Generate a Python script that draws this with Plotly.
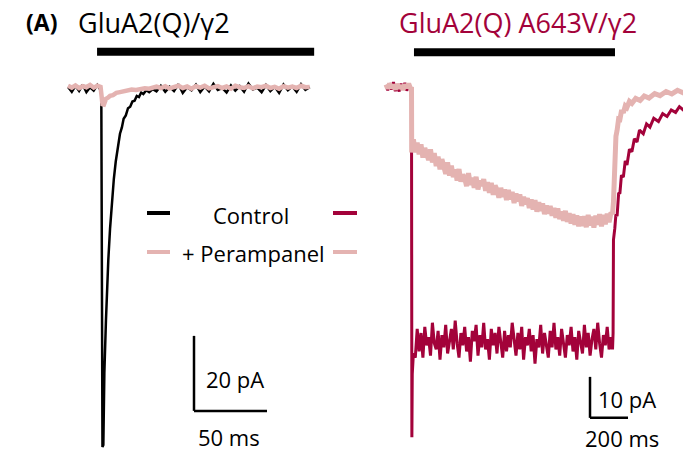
import plotly.graph_objects as go

# ---------------- colours ----------------
BLACK = "#000000"
CRIMSON = "#A3023A"
PINK = "#E4B3B1"

# ---------------- LEFT PANEL: GluA2(Q)/γ2  (time in ms, current in pA) ----------------
ctrl_left_t = [-22.6, -20, -17.5, -15, -12.5, -10, -7.5, -5, -2.5, -0.5,
               0.2, 1.0, 1.6, 2.3, 3.4, 4.2, 5.0, 6.2, 7.5, 8.8, 10.1, 11.5, 13.0, 14.3, 15.5,
               17.0, 18.5, 20.0, 21.5, 23.0, 24.5, 26.0, 27.5, 29.0, 31.0, 33.0, 35.5, 38.0,
               41, 44, 47, 50, 53, 56, 59, 62, 65, 68, 71, 74, 77, 80, 83, 86, 89, 92, 95, 98,
               101, 104, 107, 110, 113, 116, 119, 122, 125, 128, 131, 134, 137, 140, 143]
ctrl_left_i = [0.3, -1.0, 0.6, -0.8, 0.9, -1.1, 0.2, -0.7, 0.8, -0.4,
               0.0, -95.7, -95.2, -76.0, -61.9, -52.5, -45.9, -37.5, -30.0, -24.2, -19.6, -16.0, -12.2, -10.5, -8.2,
               -7.3, -5.4, -5.0, -3.6, -3.4, -2.1, -2.4, -1.2, -1.6, -0.6, -1.1, -0.3, -0.9,
               0.6, -1.0, 0.3, -0.8, 1.0, -1.3, 0.2, -0.6, 0.9, -1.1, 0.4, -0.9, 1.1, -0.5, 0.0, -1.2, 0.7, -0.7,
               0.5, -1.0, 1.2, -0.4, 0.1, -1.1, 0.8, -0.8, 0.3, -1.3, 0.9, -0.6, 0.4, -1.0, 1.0, -0.5, 0.2]

pera_left_t = [-22.6, -20, -17.5, -15, -12.5, -10, -7.5, -5, -2.5, -0.3,
               0.5, 1.0, 2.0, 3.4, 4.8, 6.2, 8.2, 10.5, 13.0, 15.5, 17.8, 21, 24, 26.7, 30, 33, 35.6,
               38, 41, 44, 47, 50, 53, 56, 59, 62, 65, 68, 71, 74, 77, 80, 83, 86, 89, 92, 95,
               98, 101, 104, 107, 110, 113, 116, 119, 122, 125, 128, 131, 134, 137, 140, 143]
pera_left_i = [0.6, 0.1, 0.7, 0.0, 0.5, 0.2, 0.8, 0.1, 0.6, 0.3,
               -2.5, -4.3, -4.4, -2.9, -2.6, -2.1, -1.9, -1.3, -1.1, -0.9, -0.7, -0.4, -0.5, -0.3, -0.1, -0.2, 0.0,
               0.4, 0.0, 0.5, -0.1, 0.3, 0.6, 0.0, 0.4, -0.2, 0.5, 0.1, 0.6, -0.1, 0.3, 0.5, 0.0, 0.4, -0.2, 0.6, 0.2,
               0.0, 0.5, -0.1, 0.4, 0.2, 0.6, 0.0, 0.3, -0.2, 0.5, 0.1, 0.4, 0.0, 0.6, 0.2, 0.3]

left_app = [-2.7, 146]          # glutamate application (ms)
left_scale = [50, 20]           # ms, pA

# ---------------- RIGHT PANEL: GluA2(Q) A643V/γ2 ----------------
# control: baseline, onset, plateau (sampled every 10 ms from 30 to 1050 ms), recovery
ctrl_right_pre_t = [-134, -125, -115, -105, -95, -85, -75, -65, -55, -45, -35, -25, -15, -5,
                    0, 2, 4, 10, 20]
ctrl_right_pre_i = [0.5, -0.8, 0.9, -0.6, 1.2, -1.0, 0.3, -1.1, 0.8, -0.5, 1.0, -0.9, 0.6, -0.4,
                    0.0, -85.4, -70.0, -65.0, -66.0]
ctrl_right_plateau_t = list(range(30, 1060, 10))
ctrl_right_plateau_i = [
    -59.0, -64.5, -60.0, -66.0, -58.5, -63.0, -61.0, -65.5, -57.5, -62.5,
    -64.0, -59.5, -66.5, -60.5, -63.5, -58.0, -65.0, -61.5, -59.0, -64.0,
    -57.0, -62.5, -66.0, -60.0, -63.0, -58.5, -64.5, -61.0, -67.0, -59.5,
    -62.0, -58.0, -65.5, -60.5, -63.5, -57.5, -64.0, -61.5, -66.5, -59.0,
    -63.0, -60.0, -65.0, -58.5, -62.5, -66.0, -59.5, -64.5, -60.5, -63.5,
    -57.5, -62.0, -65.5, -60.0, -64.0, -58.5, -66.5, -61.0, -63.0, -59.0,
    -64.5, -60.5, -67.5, -61.5, -63.5, -58.0, -65.0, -60.0, -62.5, -66.0,
    -59.5, -63.5, -57.5, -64.0, -61.0, -65.5, -59.0, -62.5, -66.0, -60.5,
    -63.0, -58.5, -64.5, -61.0, -66.5, -59.5, -62.0, -65.0, -58.0, -63.5,
    -60.0, -65.5, -61.5, -59.0, -64.0, -57.5, -62.5, -66.0, -60.5, -63.0,
    -58.5, -64.0, -61.0]
ctrl_right_post_t = [1058, 1061, 1063, 1070, 1076, 1082, 1090, 1097, 1105, 1115, 1125, 1134, 1147, 1160,
                     1173, 1187, 1200, 1220, 1237, 1255, 1275, 1300, 1322, 1345, 1367, 1390, 1410, 1430, 1445]
ctrl_right_post_i = [-64.0, -60.0, -37.3, -34.5, -31.0, -31.5, -26.0, -25.8, -21.5, -22.0, -18.0, -19.0, -15.2,
                     -15.8, -12.6, -13.4, -10.5, -11.4, -9.0, -9.8, -7.6, -8.4, -6.5, -7.2, -5.6, -6.2, -4.8,
                     -5.6, -4.6]

# + perampanel
pera_right_pre_t = [-134, -125, -115, -105, -95, -85, -75, -65, -55, -45, -35, -25, -15, -5, 0, 1, 4]
pera_right_pre_i = [0.6, -0.4, 0.8, -0.2, 0.5, -0.6, 0.7, -0.3, 0.4, -0.7, 0.6, -0.2, 0.8, -0.4,
                    0.0, -16.0, -13.5]
pera_right_plateau_t = list(range(10, 1060, 10))
pera_right_plateau_i = [
    -12.8, -15.9, -13.6, -16.4, -14.0, -17.2, -14.9, -16.0, -17.8, -15.2,
    -18.4, -16.1, -19.3, -17.0, -20.1, -17.6, -19.0, -21.2, -18.4, -21.6,
    -19.2, -22.0, -20.1, -22.8, -20.0, -23.1, -21.4, -22.3, -24.2, -21.0,
    -23.9, -22.1, -24.6, -21.9, -25.0, -22.8, -24.1, -22.5, -25.3, -23.2,
    -25.8, -23.4, -26.3, -24.0, -25.1, -27.0, -24.6, -26.8, -25.0, -27.6,
    -25.1, -27.4, -25.6, -28.3, -26.0, -27.9, -26.2, -29.0, -26.8, -28.6,
    -27.1, -29.5, -27.4, -29.9, -27.6, -30.4, -28.1, -30.2, -28.4, -31.0,
    -28.9, -30.9, -29.0, -31.4, -29.5, -31.9, -29.6, -32.2, -30.4, -32.6,
    -30.2, -32.9, -30.8, -33.3, -31.0, -33.6, -31.3, -34.0, -31.6, -33.9,
    -31.5, -34.2, -31.2, -33.8, -31.6, -34.3, -31.4, -33.6, -31.0, -34.0,
    -31.2, -33.5, -30.9, -33.0, -30.6]
pera_right_post_t = [1058, 1063, 1067, 1071, 1076, 1082, 1090, 1097, 1106, 1115, 1125, 1134, 1147, 1160,
                     1180, 1203, 1225, 1250, 1280, 1308, 1340, 1370, 1400, 1430, 1445]
pera_right_post_i = [-31.0, -28.0, -20.0, -15.4, -12.0, -10.6, -7.8, -7.9, -5.6, -6.3, -4.6, -5.0, -3.5, -4.0,
                     -2.8, -3.3, -2.2, -2.7, -1.6, -2.1, -1.1, -1.7, -0.8, -1.4, -0.9]

right_app = [13, 1071]
right_scale = [200, 10]

ctrl_right_t = ctrl_right_pre_t + ctrl_right_plateau_t + ctrl_right_post_t
ctrl_right_i = ctrl_right_pre_i + ctrl_right_plateau_i + ctrl_right_post_i
pera_right_t = pera_right_pre_t + pera_right_plateau_t + pera_right_post_t
pera_right_i = pera_right_pre_i + pera_right_plateau_i + pera_right_post_i

assert len(ctrl_left_t) == len(ctrl_left_i)
assert len(pera_left_t) == len(pera_left_i)
assert len(ctrl_right_t) == len(ctrl_right_i)
assert len(pera_right_t) == len(pera_right_i)

FONT = "Open Sans"
W, H = 683, 454
SPLIT = 360 / W

fig = go.Figure()

# left panel traces (control first, perampanel on top)
fig.add_trace(go.Scatter(x=ctrl_left_t, y=ctrl_left_i, mode="lines",
                         line=dict(color=BLACK, width=2.5), xaxis="x", yaxis="y", hoverinfo="skip"))
fig.add_trace(go.Scatter(x=pera_left_t, y=pera_left_i, mode="lines",
                         line=dict(color=PINK, width=4.5), xaxis="x", yaxis="y", hoverinfo="skip"))
# right panel traces
fig.add_trace(go.Scatter(x=ctrl_right_t, y=ctrl_right_i, mode="lines",
                         line=dict(color=CRIMSON, width=3), xaxis="x2", yaxis="y2", hoverinfo="skip"))
fig.add_trace(go.Scatter(x=pera_right_t, y=pera_right_i, mode="lines",
                         line=dict(color=PINK, width=5), xaxis="x2", yaxis="y2", hoverinfo="skip"))

shapes = []
# application bars
shapes.append(dict(type="line", xref="x", yref="y", x0=left_app[0], x1=left_app[1], y0=9.7, y1=9.7,
                   line=dict(color=BLACK, width=8)))
shapes.append(dict(type="line", xref="x2", yref="y2", x0=right_app[0], x1=right_app[1], y0=8.5, y1=8.5,
                   line=dict(color=BLACK, width=8)))
# scale bars left
lx0, ly0 = 63.7, -86.1
shapes.append(dict(type="line", xref="x", yref="y", x0=lx0, x1=lx0, y0=ly0, y1=ly0 + left_scale[1],
                   line=dict(color=BLACK, width=2.5)))
shapes.append(dict(type="line", xref="x", yref="y", x0=lx0, x1=lx0 + left_scale[0], y0=ly0, y1=ly0,
                   line=dict(color=BLACK, width=2.5)))
# scale bars right
rx0, ry0 = 939.5, -80.7
shapes.append(dict(type="line", xref="x2", yref="y2", x0=rx0, x1=rx0, y0=ry0, y1=ry0 + right_scale[1],
                   line=dict(color=BLACK, width=2.5)))
shapes.append(dict(type="line", xref="x2", yref="y2", x0=rx0, x1=rx0 + right_scale[0], y0=ry0, y1=ry0,
                   line=dict(color=BLACK, width=2.5)))
# legend sample dashes (paper coords)
def px(xp):
    return xp / W
def py(yp):
    return 1 - yp / H
for (x0, x1, yy, c) in [(147, 170, 213, BLACK), (333, 357, 213, CRIMSON),
                        (147, 170, 252, PINK), (333, 357, 252, PINK)]:
    shapes.append(dict(type="line", xref="paper", yref="paper", x0=px(x0), x1=px(x1), y0=py(yy), y1=py(yy),
                       line=dict(color=c, width=4)))

annotations = [
    dict(text="<b>(A)</b>", x=px(24), y=py(22), xanchor="left", yanchor="middle",
         font=dict(size=23, color=BLACK)),
    dict(text="GluA2(Q)/γ2", x=px(76), y=py(22), xanchor="left", yanchor="middle",
         font=dict(size=27, color=BLACK)),
    dict(text="GluA2(Q) A643V/γ2", x=px(397), y=py(22), xanchor="left", yanchor="middle",
         font=dict(size=27, color=CRIMSON)),
    dict(text="Control", x=px(251), y=py(215), xanchor="center", yanchor="middle",
         font=dict(size=22, color=BLACK)),
    dict(text="+ Perampanel", x=px(253), y=py(253), xanchor="center", yanchor="middle",
         font=dict(size=22, color=BLACK)),
    dict(text="20 pA", x=px(204), y=py(379), xanchor="left", yanchor="middle",
         font=dict(size=22, color=BLACK)),
    dict(text="50 ms", x=px(229), y=py(437), xanchor="center", yanchor="middle",
         font=dict(size=22, color=BLACK)),
    dict(text="10 pA", x=px(596), y=py(399), xanchor="left", yanchor="middle",
         font=dict(size=22, color=BLACK)),
    dict(text="200 ms", x=px(622), y=py(438), xanchor="center", yanchor="middle",
         font=dict(size=22, color=BLACK)),
]
for a in annotations:
    a.update(xref="paper", yref="paper", showarrow=False)

fig.update_layout(
    width=W, height=H,
    margin=dict(l=0, r=0, t=0, b=0),
    paper_bgcolor="white", plot_bgcolor="white",
    showlegend=False,
    font=dict(family=FONT),
    xaxis=dict(domain=[0, SPLIT], range=[-101 / 1.46, (360 - 101) / 1.46], visible=False),
    yaxis=dict(domain=[0, 1], range=[-(454 - 88) / 3.75, 88 / 3.75], visible=False),
    xaxis2=dict(domain=[SPLIT, 1], range=[(360 - 411.5) / 0.19, (683 - 411.5) / 0.19], visible=False,
                anchor="y2"),
    yaxis2=dict(domain=[0, 1], range=[-(454 - 87) / 4.1, 87 / 4.1], visible=False, anchor="x2"),
    shapes=shapes,
    annotations=annotations,
)

fig.write_html("out.html", config={"displayModeBar": False},
               post_script="document.body.style.margin='0px';")
